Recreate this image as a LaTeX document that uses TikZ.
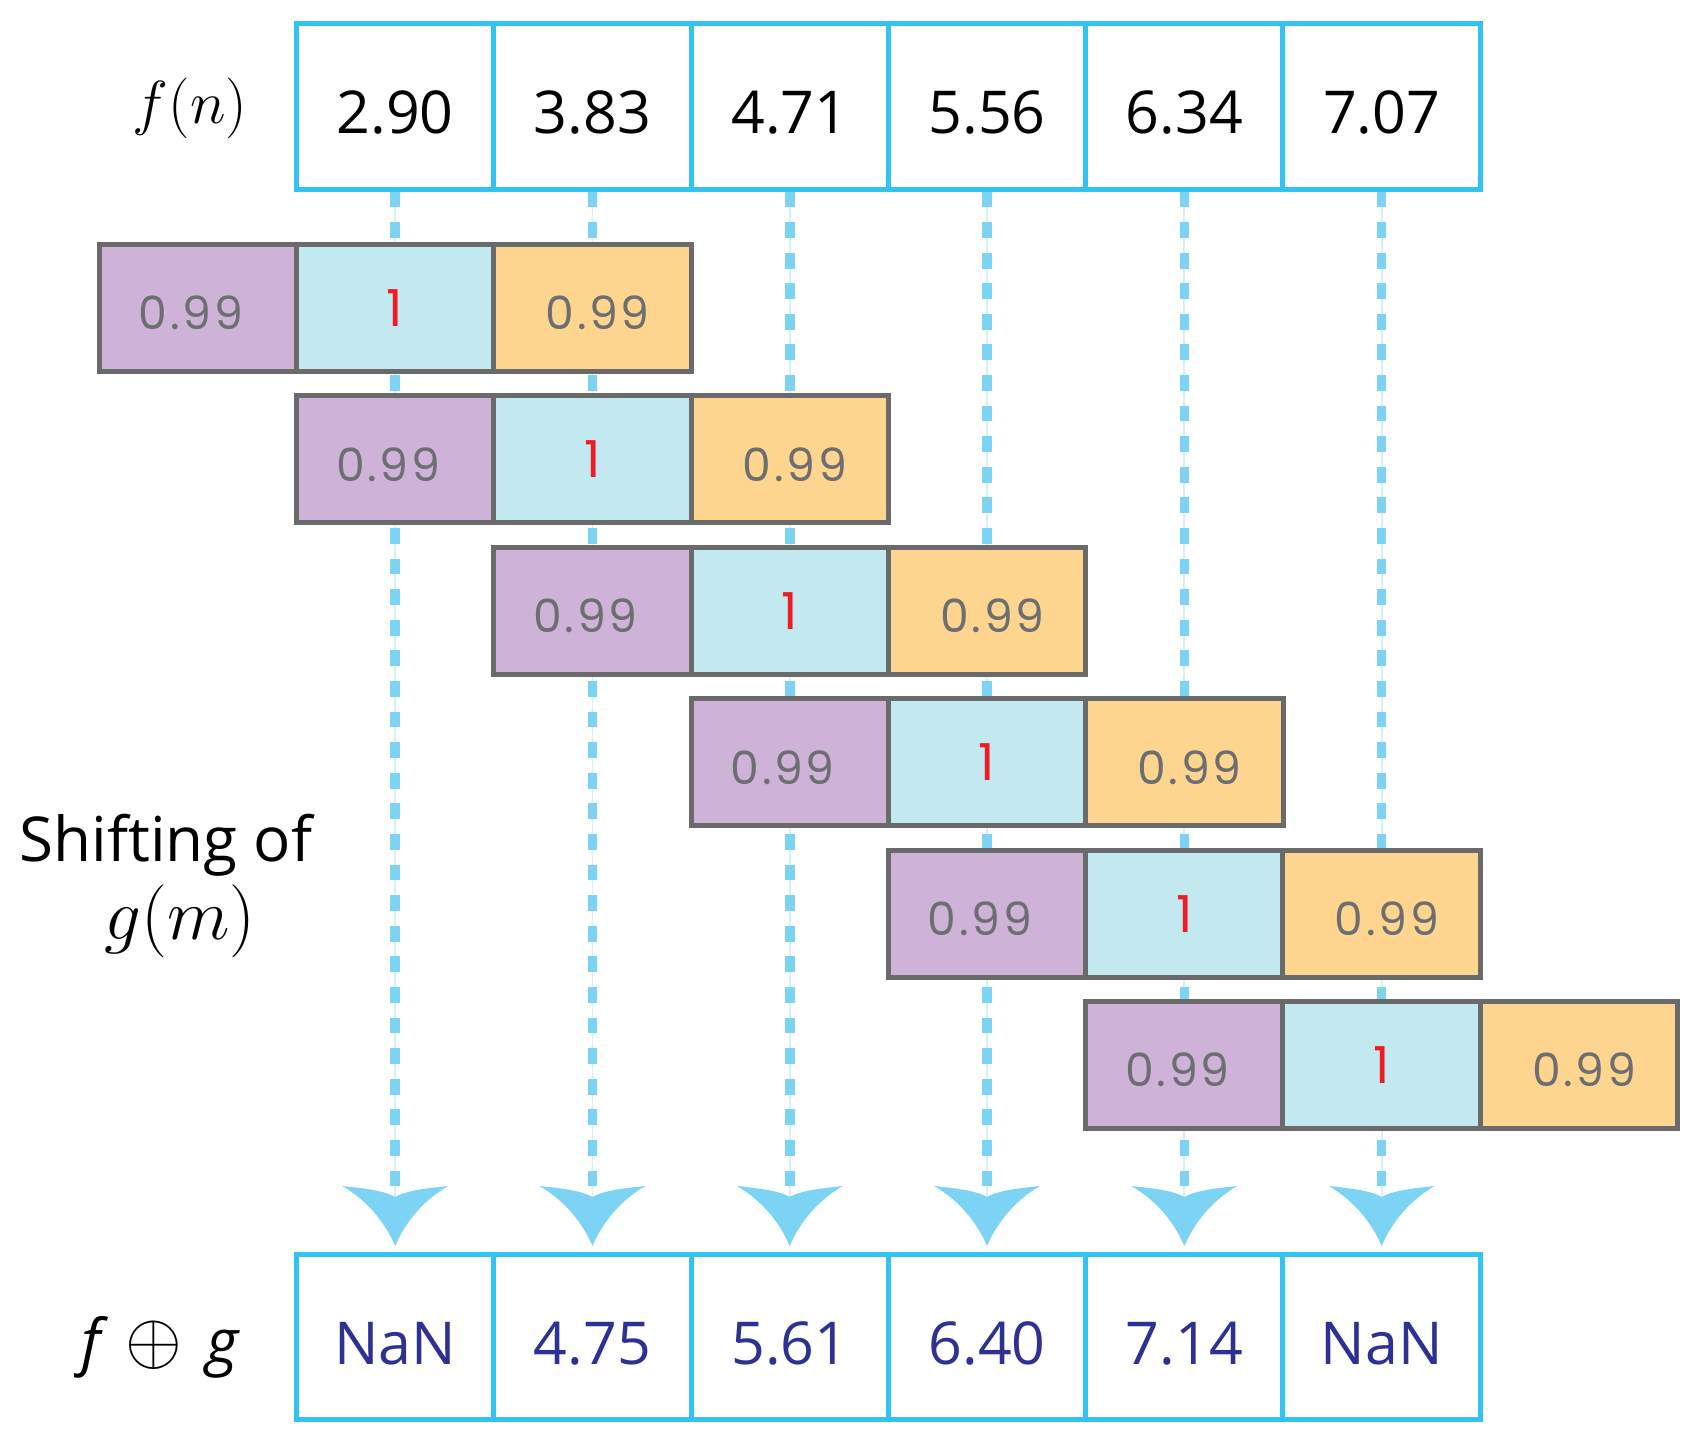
\documentclass[tikz,border=0pt]{standalone}
\usepackage{fontspec}
\setmainfont{Open Sans}
\newfontfamily\gfont[LetterSpace=6]{Poppins}
\usetikzlibrary{calc}
\definecolor{cyanb}{HTML}{33C3F2}
\definecolor{dashc}{HTML}{7DD3F4}
\definecolor{thinc}{HTML}{D4F0FB}
\definecolor{purp}{HTML}{CEB2D8}
\definecolor{lblue}{HTML}{C2E8F0}
\definecolor{oran}{HTML}{FDD58E}
\definecolor{gborder}{HTML}{6A6A6A}
\definecolor{gtext}{HTML}{6D6E71}
\definecolor{redn}{HTML}{ED1C24}
\definecolor{navyn}{HTML}{2E3192}
\newcommand{\lowtxt}[2]{\raisebox{#1}[\height][\depth]{#2}}
\begin{document}
\begin{tikzpicture}[x=0.01cm,y=-0.01cm,
  fcell/.style={draw=cyanb, line width=1.4pt, fill=white, minimum width=1.973cm,
    minimum height=1.65cm, inner sep=0pt, font=\fontsize{16.8}{16.8}\selectfont},
  gcell/.style={draw=gborder, line width=1.4pt, minimum width=1.973cm,
    minimum height=1.27cm, inner sep=0pt, font=\gfont\fontsize{13}{13}\selectfont, text=gtext},
  dashline/.style={draw=dashc, line width=2.7pt, dash pattern=on 4.5pt off 4.2pt},
  thinline/.style={draw=thinc, line width=0.5pt},
  headfill/.style={fill=dashc},
  lbl/.style={inner sep=0pt}
]
\useasboundingbox (0,0) rectangle (1703,1449);
% top row f(n)
\foreach \v [count=\i] in {2.90,3.83,4.71,5.56,6.34,7.07}
  \node[fcell] (t\i) at ({296.5+(\i-0.5)*197.3},106.5) {\lowtxt{-1.8pt}{\v}};
% bottom row f (+) g
\foreach \v [count=\i] in {NaN,4.75,5.61,6.40,7.14,NaN}
  \node[fcell, text=navyn] (b\i) at ({296.5+(\i-0.5)*197.3},1337) {\lowtxt{-1.8pt}{\v}};
% dashed connectors
\foreach \i in {1,...,6} {
  \draw[thinline] (t\i.south) -- ($(b\i.north)+(0,-50)$);
  \draw[dashline] (t\i.south) -- ($(b\i.north)+(0,-50)$);
}
% shifted g(m)
\foreach \r in {1,...,6} {
  \pgfmathsetmacro\xl{99.2+(\r-1)*197.3}
  \pgfmathsetmacro\yc{308+(\r-1)*151.4}
  \node[gcell, fill=purp] (g\r-a) at ({\xl+98.65},\yc) {\lowtxt{-1.5pt}{\hspace*{-4pt}0.99}};
  \node[gcell, fill=lblue, text=redn, font=\gfont\fontsize{14.5}{14.5}\selectfont] (g\r-b) at ({\xl+295.95},\yc) {1};
  \node[gcell, fill=oran] (g\r-c) at ({\xl+493.25},\yc) {\lowtxt{-1.5pt}{\hspace*{3pt}0.99}};
}
% arrow heads
\foreach \i in {1,...,6}
  \fill[headfill, shift={(b\i.north)}] (0,-6) .. controls (-12,-34) and (-32,-54) .. (-53,-66)
     .. controls (-35,-64) and (-12,-62) .. (0,-55)
     .. controls (12,-62) and (35,-64) .. (53,-66)
     .. controls (32,-54) and (12,-34) .. (0,-6) -- cycle;
% labels
\node[lbl] (fn) at (190,108) {\fontsize{18.5}{18.5}\selectfont$f(n)$};
\node[lbl] (shift) at (166,845) {\fontsize{17.6}{17.6}\selectfont Shifting of};
\node[lbl] (gm) at (180,921) {\fontsize{21}{21}\selectfont$g(m)$};
\node[lbl] (fg) at (160,1347) {\fontsize{17.5}{17.5}\selectfont\itshape f\hspace{7pt}\normalfont\fontsize{22}{22}\selectfont$\oplus$\hspace{7pt}\fontsize{17.5}{17.5}\selectfont\itshape g};
\end{tikzpicture}
\end{document}
